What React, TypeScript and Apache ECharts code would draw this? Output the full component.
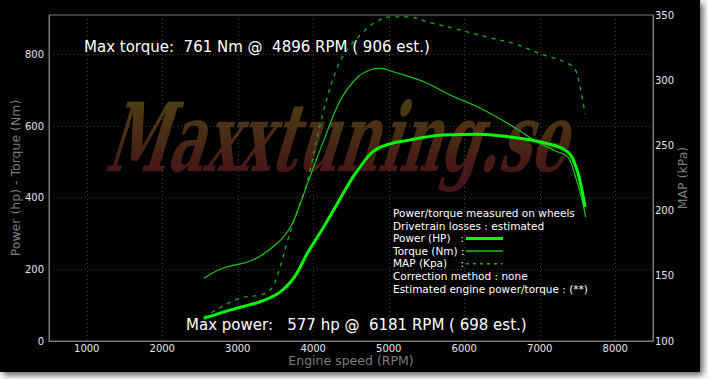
import React, { useEffect, useRef } from 'react';
import * as echarts from 'echarts';

const powerRpm = [2550, 2800, 3050, 3300, 3550, 3750, 3920, 4140, 4320, 4500, 4590, 4800, 5030, 5250, 5650, 5900, 6181, 6660, 7100, 7370, 7480, 7550, 7600];
const powerHp = [63, 80, 95, 110, 135, 178, 244, 319, 384, 449, 477, 530, 551, 560, 574, 576, 577, 568, 551, 528, 486, 430, 374];

const torqueRpm = [2550, 2800, 3200, 3520, 3700, 3830, 3940, 4140, 4360, 4590, 4760, 4896, 5070, 5470, 5820, 6180, 6580, 6930, 7190, 7370, 7460, 7550, 7610];
const torqueNm = [175, 203, 226, 272, 319, 384, 449, 560, 672, 737, 757, 761, 751, 723, 686, 653, 607, 560, 532, 514, 467, 402, 346];

const mapRpm = [2550, 2810, 3040, 3260, 3430, 3545, 3660, 3790, 3910, 4140, 4320, 4470, 4630, 4810, 5030, 5250, 5560, 5910, 6310, 6660, 7020, 7370, 7480, 7525, 7570, 7600];
const mapKpa = [118, 127, 133, 135, 139, 154, 177, 200, 220, 277, 310, 325, 335, 344, 348.5, 348.5, 344, 339, 333, 328, 320, 313, 307, 297, 284, 274];

const maxTorqueText = 'Max torque:  761 Nm @  4896 RPM ( 906 est.)';
const maxPowerText = 'Max power:   577 hp @  6181 RPM ( 698 est.)';
const watermarkText = 'Maxxtuning.se';
const infoLines = [
  'Power/torque measured on wheels',
  'Drivetrain losses : estimated',
  'Power (HP)   :',
  'Torque (Nm) :',
  'MAP (Kpa)    :',
  'Correction method : none',
  'Estimated engine power/torque : (**)',
];

const FONT = '"DejaVu Sans"';
const POWER_COLOR = '#00ff00';
const TORQUE_COLOR = '#14c814';
const MAP_COLOR = '#10b010';

function pairs(xs: number[], ys: number[]) {
  return xs.map((x, i) => [x, ys[i]]);
}

export default function App() {
  const ref = useRef<HTMLDivElement>(null);
  useEffect(() => {
    const chart = echarts.init(ref.current as HTMLDivElement, null, { renderer: 'svg' });
    const lineYs = [213, 225.5, 238, 250.7, 263.2, 276, 288.5];
    const graphic: any[] = [
      {
        type: 'rect', z: -100, silent: true,
        shape: { x: 0, y: 0, width: 700, height: 372 },
        style: { fill: '#000', shadowBlur: 7, shadowColor: 'rgba(0,0,0,0.65)', shadowOffsetX: 3, shadowOffsetY: 3 },
      },
      {
        type: 'text', z: 10,
        style: { text: maxTorqueText, x: 84, y: 46.5, fill: '#fff', font: '15px ' + FONT, verticalAlign: 'middle' },
      },
      {
        type: 'text', z: 10,
        style: { text: maxPowerText, x: 186, y: 324.5, fill: '#fff', font: '15px ' + FONT, verticalAlign: 'middle' },
      },
    ];
    infoLines.forEach((t, i) => {
      graphic.push({
        type: 'text', z: 10,
        style: { text: t, x: 393, y: lineYs[i], fill: '#fff', font: '10.5px ' + FONT, verticalAlign: 'middle' },
      });
    });
    graphic.push(
      { type: 'line', z: 10, shape: { x1: 466, y1: 238.5, x2: 503, y2: 238.5 }, style: { stroke: POWER_COLOR, lineWidth: 3 } },
      { type: 'line', z: 10, shape: { x1: 466, y1: 251, x2: 503, y2: 251 }, style: { stroke: TORQUE_COLOR, lineWidth: 1.6 } },
      { type: 'line', z: 10, shape: { x1: 466, y1: 263.7, x2: 503, y2: 263.7 }, style: { stroke: MAP_COLOR, lineWidth: 1.4, lineDash: [3, 4] } },
    );

    const nameStyle = { color: '#7c7c7c', fontSize: 12.5, fontFamily: FONT };
    const option: any = {
      animation: false,
      backgroundColor: '#ffffff',
      grid: { left: 49, right: 55, top: 15, bottom: 38, outerBoundsMode: 'none', containLabel: false, show: true, borderColor: '#7a7a7a', borderWidth: 1, backgroundColor: 'transparent' },
      xAxis: {
        type: 'value', min: 500, max: 8500, splitNumber: 8,
        name: 'Engine speed (RPM)', nameLocation: 'middle', nameGap: 13, nameMoveOverlap: false,
        nameTextStyle: nameStyle,
        axisLine: { show: true, lineStyle: { color: '#7a7a7a' } },
        axisTick: { show: false },
        axisLabel: { color: '#e6e6e6', fontSize: 10, fontFamily: FONT, margin: 2, showMinLabel: false, showMaxLabel: false, formatter: (v: number) => String(v) },
        splitLine: { show: true, lineStyle: { color: '#3c3c3c', type: [1, 3] } },
      },
      yAxis: [
        {
          type: 'value', min: 0, max: 910, interval: 200, position: 'left',
          name: 'Power (hp) - Torque (Nm)', nameLocation: 'middle', nameGap: 27, nameMoveOverlap: false,
          nameTextStyle: nameStyle,
          axisLine: { show: true, lineStyle: { color: '#7a7a7a' } },
          axisTick: { show: false },
          axisLabel: { color: '#e6e6e6', fontSize: 10, fontFamily: FONT, margin: 5, showMaxLabel: false },
          splitLine: { show: true, lineStyle: { color: '#3c3c3c', type: [1, 3] } },
        },
        {
          type: 'value', min: 100, max: 350, interval: 50, position: 'right',
          name: 'MAP (kPa)', nameLocation: 'middle', nameGap: 23, nameMoveOverlap: false,
          nameTextStyle: nameStyle,
          axisLine: { show: true, lineStyle: { color: '#7a7a7a' } },
          axisTick: { show: false },
          axisLabel: { color: '#e6e6e6', fontSize: 10, fontFamily: FONT, margin: 2 },
          splitLine: { show: false },
        },
      ],
      series: [
        {
          name: 'MAP (Kpa)', type: 'line', yAxisIndex: 1, data: pairs(mapRpm, mapKpa),
          showSymbol: false, smooth: 0.4,
          lineStyle: { color: MAP_COLOR, width: 1.3, type: [4, 5] }, z: 3,
        },
        {
          name: 'Torque (Nm)', type: 'line', yAxisIndex: 0, data: pairs(torqueRpm, torqueNm),
          showSymbol: false, smooth: 0.4,
          lineStyle: { color: TORQUE_COLOR, width: 1.2 }, z: 4,
        },
        {
          name: 'Power (HP)', type: 'line', yAxisIndex: 0, data: pairs(powerRpm, powerHp),
          showSymbol: false, smooth: 0.4,
          lineStyle: { color: POWER_COLOR, width: 3 }, z: 5,
        },
      ],
      graphic,
    };
    chart.setOption(option);

    // Watermark: slanted slab text with a vertical olive-to-red gradient
    const zr = chart.getZr();
    const wm: any = new (echarts.graphic as any).Text({
      x: 114, y: 137, scaleX: 0.59, scaleY: 1, skewX: -0.3, z: -10, silent: true,
      style: { text: watermarkText, font: 'bold 95px "DejaVu Serif"', verticalAlign: 'middle', fill: '#4e2a16' },
    });
    zr.add(wm);
    try {
      zr.refreshImmediately();
      const kids: any[] = wm.childrenRef ? wm.childrenRef() : [];
      const span = kids.find((k: any) => k && k.style && k.style.text != null);
      if (span) {
        span.style.fill = new echarts.graphic.LinearGradient(0, 0, 0, 1, [
          { offset: 0, color: '#514012' },
          { offset: 0.18, color: '#4e3e12' },
          { offset: 0.5, color: '#4a2a14' },
          { offset: 0.8, color: '#461617' },
          { offset: 1, color: '#421317' },
        ]);
        span.dirty();
        zr.refreshImmediately();
      }
    } catch (e) {
      // keep solid fill
    }
    return () => chart.dispose();
  }, []);
  return <div ref={ref} style={{ position: 'absolute', left: 0, top: 0, width: 708, height: 379 }} />;
}
